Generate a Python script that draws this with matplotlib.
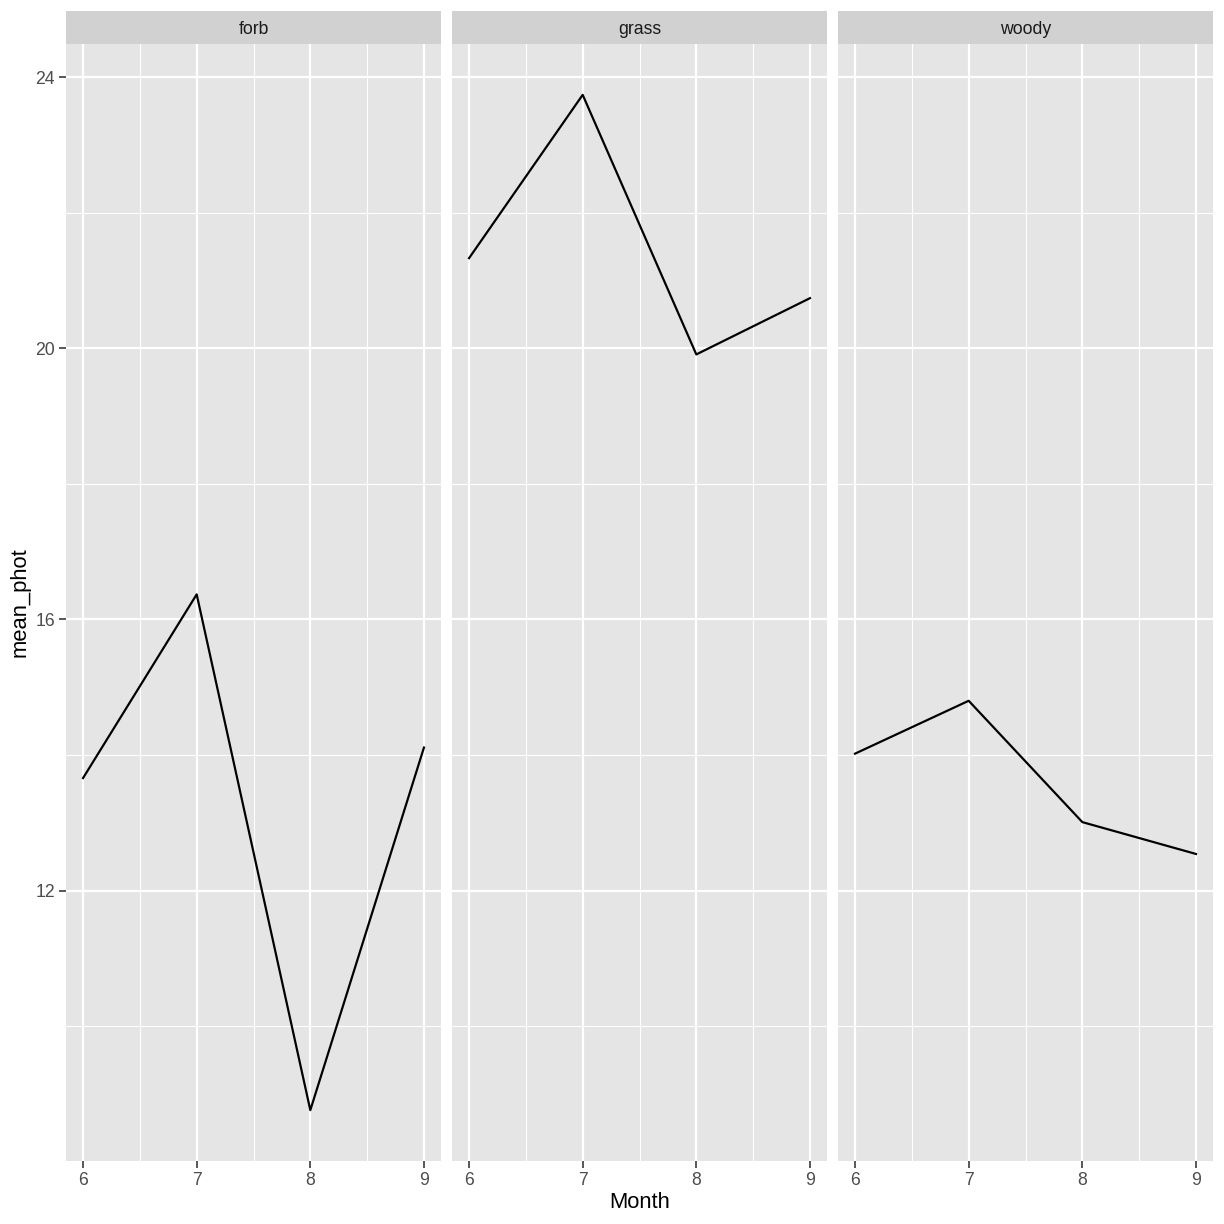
import matplotlib.pyplot as plt
from matplotlib.ticker import MultipleLocator, FixedLocator

# Data
months = [6, 7, 8, 9]
groups = ['forb', 'grass', 'woody']
forb = [13.66, 16.37, 8.76, 14.11]
grass = [21.33, 23.74, 19.91, 20.74]
woody = [14.02, 14.80, 13.01, 12.54]
series = [forb, grass, woody]
y_breaks = [12, 16, 20, 24]

plt.rcParams['font.family'] = ['Liberation Sans', 'DejaVu Sans']

W = 1224
fig = plt.figure(figsize=(8.5, 8.5), dpi=144)

lefts = [66, 452, 838]
pw = 375
top, bottom = 44, 1161
strip_top = 11

ymin, ymax = 8.01, 24.49
xmin, xmax = 5.85, 9.15

for i, (g, vals) in enumerate(zip(groups, series)):
    ax = fig.add_axes([lefts[i] / W, 1 - bottom / W, pw / W, (bottom - top) / W])
    ax.set_facecolor('#E5E5E5')
    ax.plot(months, vals, color='black', lw=1.1)
    ax.set_xlim(xmin, xmax)
    ax.set_ylim(ymin, ymax)
    ax.xaxis.set_major_locator(MultipleLocator(1))
    ax.xaxis.set_minor_locator(MultipleLocator(0.5))
    ax.yaxis.set_major_locator(FixedLocator(y_breaks))
    ax.yaxis.set_minor_locator(FixedLocator([10, 14, 18, 22]))
    ax.grid(which='major', color='white', lw=1.1)
    ax.grid(which='minor', color='white', lw=0.55)
    ax.set_axisbelow(True)
    for s in ax.spines.values():
        s.set_visible(False)
    ax.tick_params(which='major', length=3.5, width=0.8, color='#333333',
                   labelcolor='#4D4D4D', labelsize=8.8, pad=2)
    ax.tick_params(which='minor', length=0)
    if i > 0:
        ax.tick_params(axis='y', which='major', length=0, labelleft=False)

    # facet strip
    sax = fig.add_axes([lefts[i] / W, 1 - top / W, pw / W, (top - strip_top) / W])
    sax.set_facecolor('#D1D1D1')
    sax.set_xticks([])
    sax.set_yticks([])
    for s in sax.spines.values():
        s.set_visible(False)
    sax.text(0.5, 0.45, g, ha='center', va='center', fontsize=8.8, color='#1A1A1A',
             transform=sax.transAxes)

fig.text((lefts[0] + (lefts[2] + pw)) / 2 / W, 1 - 1202 / W, 'Month',
         ha='center', va='center', fontsize=11)
fig.text(20 / W, 1 - (top + bottom) / 2 / W, 'mean_phot', rotation=90,
         ha='center', va='center', fontsize=11)

fig.savefig('out.png', dpi=144, facecolor='white')
